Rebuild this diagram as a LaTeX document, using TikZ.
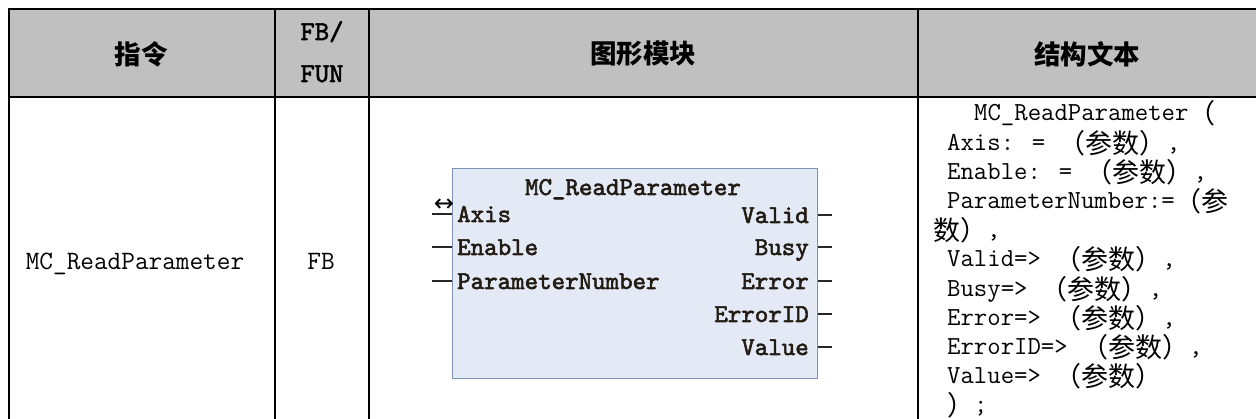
\documentclass[tikz,border=0pt]{standalone}
\usepackage{fontspec}
\newfontfamily\cjk{Noto Sans CJK SC}
\newfontfamily\fbmono[FakeBold=2.2]{lmmono10-regular.otf}
\newfontfamily\hdmono[FakeBold=2.2]{lmmono10-regular.otf}
\definecolor{hdrgray}{HTML}{C0C0C0}
\definecolor{blockfill}{HTML}{E3EAF5}
\definecolor{blockline}{HTML}{7C92BA}
\definecolor{fbink}{HTML}{231C14}
\newcommand{\zh}[1]{\raisebox{-3pt}{\cjk\fontsize{27}{29}\selectfont #1}}
\tikzset{
  rule/.style={line width=2.6pt, black},
  hdtext/.style={inner sep=0pt, font=\cjk\bfseries\fontsize{26.5}{30}\selectfont},
  hdlatin/.style={inner sep=0pt, anchor=base, font=\hdmono\fontsize{27.3}{30}\selectfont},
  celltext/.style={inner sep=0pt, anchor=base, font=\ttfamily\fontsize{26.5}{29}\selectfont},
  stline/.style={inner sep=0pt, anchor=base west, font=\ttfamily\fontsize{26}{29}\selectfont},
  fbtext/.style={inner sep=0pt, text=fbink, font=\fbmono\fontsize{25.7}{27}\selectfont},
  fbbox/.style={draw=blockline, fill=blockfill, line width=1.4pt, inner sep=0pt, anchor=north west},
  pinline/.style={line width=1.6pt, black!85},
}
\begin{document}
\begin{tikzpicture}[x=1pt,y=-1pt]
\useasboundingbox (0,0) rectangle (1256,419);
% header background
\fill[hdrgray] (9,9) rectangle (1256,97);
% table rules
\draw[rule] (1256,9) -- (9,9) -- (9,419);
\draw[rule] (9,97) -- (1256,97);
\foreach \x in {275,369,918} \draw[rule] (\x,9) -- (\x,419);
% header texts
\node[hdtext] (h1) at (141,54) {指令};
\node[hdlatin] (h2a) at (322,40) {FB/};
\node[hdlatin] (h2b) at (322,82) {FUN};
\node[hdtext] (h3) at (643,54) {图形模块};
\node[hdtext] (h4) at (1087,54) {结构文本};
% body cells
\node[celltext] (c1) at (135,270) {MC\_ReadParameter};
\node[celltext] (c2) at (321,270) {FB};
% function block
\node[fbbox, minimum width=365pt, minimum height=210pt] (fb) at (452,168) {};
\node[fbtext, anchor=base] (title) at (633,195) {MC\_ReadParameter};
\node[fbtext, anchor=base west] (in1) at (457,222) {Axis};
\node[fbtext, anchor=base west] (in2) at (457,255) {Enable};
\node[fbtext, anchor=base west] (in3) at (457,289) {ParameterNumber};
\node[fbtext, anchor=base east] (out1) at (809,223) {Valid};
\node[fbtext, anchor=base east] (out2) at (809,255) {Busy};
\node[fbtext, anchor=base east] (out3) at (809,289) {Error};
\node[fbtext, anchor=base east] (out4) at (809,322) {ErrorID};
\node[fbtext, anchor=base east] (out5) at (809,355) {Value};
\node[inner sep=0pt, font=\fontspec{DejaVu Sans}\fontsize{24}{24}\selectfont] (inout) at (444,205) {↔};
\coordinate (pl1) at (432,214);
\coordinate (pl2) at (432,247);
\coordinate (pl3) at (432,281);
\coordinate (pr1) at (832,215);
\coordinate (pr2) at (832,247);
\coordinate (pr3) at (832,281);
\coordinate (pr4) at (832,314);
\coordinate (pr5) at (832,347);
\foreach \p in {pl1,pl2,pl3} \draw[pinline] (\p) -- (fb.west |- \p);
\foreach \p in {pr1,pr2,pr3,pr4,pr5} \draw[pinline] (fb.east |- \p) -- (\p);
% structured text
\node[stline] (s1) at (974,121.0) {MC\_ReadParameter\zh{（}};
\node[stline] (s2) at (947,150.2) {Axis: = \zh{（参数）},};
\node[stline] (s3) at (947,179.4) {Enable: = \zh{（参数）},};
\node[stline] (s4) at (947,208.6) {ParameterNumber:=\zh{（参}};
\node[stline] (s5) at (933,237.8) {\zh{数）},};
\node[stline] (s6) at (947,267.0) {Valid=> \zh{（参数）},};
\node[stline] (s7) at (947,296.2) {Busy=> \zh{（参数）},};
\node[stline] (s8) at (947,325.4) {Error=> \zh{（参数）},};
\node[stline] (s9) at (947,354.6) {ErrorID=> \zh{（参数）},};
\node[stline] (s10) at (947,383.8) {Value=> \zh{（参数）}};
\node[stline] (s11) at (947,413.0) {\zh{）};};
\end{tikzpicture}
\end{document}
